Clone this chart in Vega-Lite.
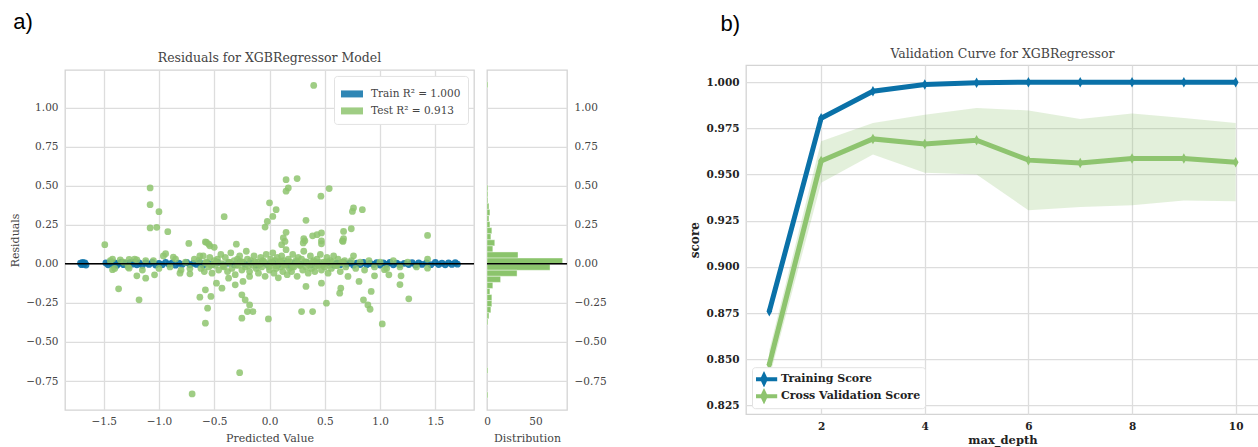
{
  "$schema": "https://vega.github.io/schema/vega-lite/v6.json",
  "background": "white",
  "padding": {"left": 9, "top": 11, "right": 0, "bottom": 0},
  "center": true,
  "config": {
    "view": {"stroke": "#d4d4d4", "strokeWidth": 1.3},
    "axis": {"domain": false, "ticks": false, "gridColor": "#dddddd", "gridWidth": 1.3, "labelFont": "DejaVu Serif", "labelFontSize": 10.5, "labelColor": "#444444", "titleFont": "DejaVu Serif", "titleFontSize": 11, "titleFontWeight": "normal", "titleColor": "#444444", "labelPadding": 7, "titlePadding": 5, "labelOverlap": false, "labelFlush": false},
    "title": {"font": "DejaVu Serif", "fontSize": 12.5, "fontWeight": "normal", "color": "#444444"}
  },
  "datasets": {
    "train": [
      {"p":-1.71,"r":0.004},{"p":-1.70,"r":-0.006},{"p":-1.69,"r":0.008},{"p":-1.68,"r":-0.003},{"p":-1.67,"r":0.006},{"p":-1.66,"r":-0.008},
      {"p":-1.48,"r":0.005},{"p":-1.46,"r":-0.007},{"p":-1.44,"r":0.009},{"p":-1.42,"r":-0.004},{"p":-1.40,"r":0.006},{"p":-1.38,"r":-0.01},{"p":-1.36,"r":0.003},{"p":-1.34,"r":0.01},{"p":-1.32,"r":-0.006},{"p":-1.30,"r":0.004},{"p":-1.28,"r":-0.009},{"p":-1.26,"r":0.007},{"p":-1.24,"r":-0.003},{"p":-1.22,"r":0.01},{"p":-1.20,"r":-0.007},{"p":-1.18,"r":0.005},{"p":-1.15,"r":-0.01},{"p":-1.12,"r":0.006},{"p":-1.09,"r":-0.004},{"p":-1.06,"r":0.008},{"p":-1.03,"r":-0.008},{"p":-1.00,"r":0.003},{"p":-0.97,"r":-0.006},{"p":-0.94,"r":0.009},{"p":-0.91,"r":-0.003},{"p":-0.88,"r":0.006},{"p":-0.85,"r":-0.009},{"p":-0.82,"r":0.004},{"p":-0.79,"r":-0.005},{"p":-0.75,"r":0.008},{"p":-0.72,"r":-0.007},{"p":-0.69,"r":0.003},{"p":-0.66,"r":-0.004},{"p":-0.63,"r":0.007},{"p":-0.60,"r":-0.009},{"p":-0.56,"r":0.005},{"p":-0.52,"r":-0.004},{"p":-0.47,"r":0.008},{"p":-0.42,"r":-0.007},{"p":-0.37,"r":0.004},{"p":-0.32,"r":-0.006},{"p":-0.27,"r":0.009},{"p":-0.22,"r":-0.003},{"p":-0.17,"r":0.006},{"p":-0.12,"r":-0.008},{"p":-0.07,"r":0.004},{"p":-0.02,"r":-0.005},{"p":0.03,"r":0.007},{"p":0.08,"r":-0.006},{"p":0.13,"r":0.003},{"p":0.18,"r":-0.009},{"p":0.23,"r":0.006},{"p":0.28,"r":-0.004},{"p":0.33,"r":0.008},{"p":0.38,"r":-0.007},{"p":0.43,"r":0.004},{"p":0.48,"r":-0.005},{"p":0.53,"r":0.007},{"p":0.58,"r":-0.008},{"p":0.61,"r":0.004},{"p":0.64,"r":-0.006},{"p":0.67,"r":0.009},{"p":0.70,"r":-0.003},{"p":0.73,"r":0.006},{"p":0.76,"r":-0.009},{"p":0.79,"r":0.004},{"p":0.82,"r":-0.005},{"p":0.85,"r":0.008},{"p":0.88,"r":-0.007},{"p":0.91,"r":0.003},{"p":0.94,"r":-0.004},{"p":0.97,"r":0.007},{"p":1.00,"r":-0.008},{"p":1.03,"r":0.005},{"p":1.06,"r":-0.004},{"p":1.09,"r":0.008},{"p":1.12,"r":-0.007},{"p":1.15,"r":0.004},{"p":1.18,"r":-0.006},{"p":1.22,"r":0.003},{"p":1.26,"r":-0.005},{"p":1.29,"r":0.007},{"p":1.32,"r":-0.008},{"p":1.35,"r":0.005},{"p":1.38,"r":-0.004},{"p":1.42,"r":0.006},{"p":1.46,"r":-0.006},{"p":1.50,"r":0.008},{"p":1.53,"r":-0.005},{"p":1.56,"r":0.004},{"p":1.59,"r":-0.007},{"p":1.62,"r":0.006},{"p":1.65,"r":-0.004},{"p":1.68,"r":0.007},{"p":1.70,"r":-0.003}
    ],
    "test": [
      {"p":-1.08,"r":0.485},{"p":-1.08,"r":0.378},{"p":-1.00,"r":0.333},{"p":-0.41,"r":0.301},{"p":-1.08,"r":0.229},{"p":-1.02,"r":0.233},{"p":-0.92,"r":0.205},{"p":0.0,"r":0.39},{"p":-0.02,"r":0.271},{"p":-0.04,"r":0.235},{"p":-0.73,"r":0.13},{"p":-0.58,"r":0.14},{"p":-0.54,"r":0.115},{"p":-0.30,"r":0.125},{"p":-0.57,"r":0.137},{"p":-0.55,"r":0.126},{"p":-0.50,"r":0.105},
      {"p":0.40,"r":1.141},{"p":0.15,"r":0.538},{"p":0.25,"r":0.545},{"p":0.17,"r":0.485},{"p":0.15,"r":0.464},{"p":0.54,"r":0.481},{"p":0.465,"r":0.432},{"p":0.06,"r":0.346},{"p":0.03,"r":0.303},{"p":0.76,"r":0.357},{"p":0.84,"r":0.346},{"p":0.75,"r":0.335},{"p":0.33,"r":0.278},{"p":0.74,"r":0.224},{"p":0.67,"r":0.207},{"p":0.43,"r":0.186},{"p":0.47,"r":0.197},{"p":0.15,"r":0.201},{"p":0.125,"r":0.165},{"p":0.31,"r":0.16},{"p":0.67,"r":0.16},{"p":1.43,"r":0.181},{"p":0.32,"r":0.147},{"p":0.39,"r":0.179},{"p":0.47,"r":0.147},{"p":0.66,"r":0.147},
      {"p":-1.49,"r":0.122},{"p":-0.94,"r":0.064},{"p":-0.87,"r":0.043},{"p":-1.42,"r":0.030},{"p":-1.35,"r":0.025},{"p":-1.27,"r":0.028},{"p":-1.20,"r":0.025},{"p":-1.12,"r":0.02},{"p":-1.42,"r":-0.038},{"p":-1.27,"r":-0.028},{"p":-1.20,"r":-0.077},{"p":-1.12,"r":-0.092},{"p":-1.04,"r":-0.071},{"p":-1.365,"r":-0.160},{"p":-1.18,"r":-0.231},{"p":-0.81,"r":-0.060},{"p":-0.72,"r":-0.064},{"p":-0.63,"r":0.051},{"p":-0.58,"r":-0.167},{"p":-0.63,"r":-0.214},{"p":-0.53,"r":-0.209},{"p":-0.56,"r":-0.284},{"p":-0.58,"r":-0.380},{"p":-0.48,"r":-0.124},{"p":-0.43,"r":-0.156},{"p":-0.37,"r":-0.092},{"p":-0.31,"r":-0.135},{"p":-0.24,"r":-0.113},{"p":-0.18,"r":-0.081},{"p":-0.25,"r":-0.199},{"p":-0.22,"r":-0.231},{"p":-0.18,"r":-0.263},{"p":-0.20,"r":-0.306},{"p":-0.15,"r":-0.306},{"p":-0.25,"r":-0.348},{"p":-0.01,"r":-0.353},{"p":-0.27,"r":-0.697},{"p":-0.70,"r":-0.833},
      {"p":0.11,"r":0.122},{"p":0.14,"r":0.143},{"p":0.305,"r":0.133},{"p":0.47,"r":0.128},{"p":0.665,"r":0.143},{"p":0.76,"r":0.051},{"p":1.43,"r":0.030},{"p":0.33,"r":-0.145},{"p":0.47,"r":-0.124},{"p":0.645,"r":-0.156},{"p":0.635,"r":-0.188},{"p":0.515,"r":-0.252},{"p":0.29,"r":-0.306},{"p":0.39,"r":-0.306},{"p":0.81,"r":-0.113},{"p":0.71,"r":-0.081},{"p":0.92,"r":-0.177},{"p":0.85,"r":-0.231},{"p":0.89,"r":-0.263},{"p":0.91,"r":-0.291},{"p":0.95,"r":-0.077},{"p":1.04,"r":-0.038},{"p":1.08,"r":-0.071},{"p":1.19,"r":-0.077},{"p":1.18,"r":-0.133},{"p":1.26,"r":-0.224},{"p":1.02,"r":-0.385},{"p":1.43,"r":-0.028},
      {"p":-0.64,"r":0.02},{"p":-0.62,"r":-0.03},{"p":-0.60,"r":0.05},{"p":-0.59,"r":-0.05},{"p":-0.57,"r":0.01},{"p":-0.55,"r":-0.02},{"p":-0.54,"r":0.04},{"p":-0.52,"r":-0.06},{"p":-0.50,"r":0.02},{"p":-0.49,"r":-0.01},{"p":-0.47,"r":0.03},{"p":-0.46,"r":-0.04},{"p":-0.44,"r":0.06},{"p":-0.43,"r":0.0},{"p":-0.41,"r":-0.02},{"p":-0.40,"r":0.04},{"p":-0.38,"r":-0.05},{"p":-0.37,"r":0.01},{"p":-0.35,"r":0.07},{"p":-0.34,"r":-0.03},{"p":-0.32,"r":0.02},{"p":-0.31,"r":-0.07},{"p":-0.29,"r":0.03},{"p":-0.28,"r":-0.01},{"p":-0.27,"r":0.05},{"p":-0.25,"r":-0.04},{"p":-0.24,"r":0.01},{"p":-0.22,"r":-0.02},{"p":-0.21,"r":0.08},{"p":-0.20,"r":0.03},{"p":-0.18,"r":-0.05},{"p":-0.17,"r":0.02},{"p":-0.15,"r":-0.01},{"p":-0.14,"r":0.05},{"p":-0.12,"r":-0.03},{"p":-0.11,"r":0.01},{"p":-0.10,"r":-0.06},{"p":-0.08,"r":0.04},{"p":-0.07,"r":-0.02},{"p":-0.06,"r":0.02},{"p":-0.04,"r":-0.08},{"p":-0.03,"r":0.06},{"p":-0.02,"r":0.0},{"p":0.0,"r":-0.04},{"p":0.01,"r":0.03},{"p":0.02,"r":-0.01},{"p":0.03,"r":0.07},{"p":0.04,"r":-0.06},{"p":0.05,"r":0.02},{"p":0.06,"r":-0.03},{"p":0.07,"r":0.04},{"p":0.08,"r":-0.09},{"p":0.09,"r":0.01},{"p":0.10,"r":-0.02},{"p":0.11,"r":0.05},{"p":0.12,"r":-0.05},{"p":0.13,"r":0.02},{"p":0.14,"r":-0.01},{"p":0.15,"r":0.09},{"p":0.16,"r":-0.07},{"p":0.17,"r":0.03},{"p":0.18,"r":-0.03},{"p":0.19,"r":0.01},{"p":0.20,"r":-0.05},{"p":0.21,"r":0.06},{"p":0.22,"r":-0.02},{"p":0.24,"r":0.02},{"p":0.25,"r":-0.08},{"p":0.26,"r":0.04},{"p":0.27,"r":-0.01},{"p":0.29,"r":0.03},{"p":0.30,"r":-0.04},{"p":0.31,"r":0.08},{"p":0.33,"r":-0.02},{"p":0.34,"r":0.01},{"p":0.35,"r":-0.06},{"p":0.37,"r":0.05},{"p":0.38,"r":-0.03},{"p":0.40,"r":0.02},{"p":0.41,"r":-0.05},{"p":0.43,"r":0.03},{"p":0.44,"r":-0.01},{"p":0.46,"r":0.06},{"p":0.47,"r":-0.04},{"p":0.49,"r":0.01},{"p":0.50,"r":-0.02},{"p":0.52,"r":0.04},{"p":0.53,"r":-0.06},{"p":0.55,"r":0.02},{"p":0.56,"r":-0.03},{"p":0.58,"r":0.05},{"p":0.60,"r":-0.01},{"p":0.62,"r":0.03},{"p":0.64,"r":-0.05},{"p":0.66,"r":0.01},{"p":0.69,"r":-0.02},
      {"p":-0.58,"r":0.005},{"p":-0.53,"r":-0.008},{"p":-0.48,"r":0.012},{"p":-0.42,"r":-0.015},{"p":-0.36,"r":0.008},{"p":-0.30,"r":-0.01},{"p":-0.26,"r":0.015},{"p":-0.19,"r":-0.012},{"p":-0.13,"r":0.01},{"p":-0.09,"r":-0.006},{"p":-0.05,"r":0.014},{"p":-0.01,"r":-0.018},{"p":0.02,"r":0.01},{"p":0.06,"r":-0.012},{"p":0.10,"r":0.016},{"p":0.13,"r":-0.008},{"p":0.17,"r":0.012},{"p":0.21,"r":-0.015},{"p":0.25,"r":0.006},{"p":0.28,"r":-0.01},{"p":0.32,"r":0.014},{"p":0.36,"r":-0.006},{"p":0.39,"r":0.01},{"p":0.42,"r":-0.014},{"p":0.45,"r":0.008},{"p":0.48,"r":-0.01},{"p":0.51,"r":0.012},{"p":0.54,"r":-0.008},{"p":0.57,"r":0.01},{"p":0.61,"r":-0.012},{"p":0.65,"r":0.006},{"p":0.68,"r":0.02},
      {"p":-1.44,"r":0.02},{"p":-1.40,"r":-0.03},{"p":-1.32,"r":0.01},{"p":-1.28,"r":-0.02},{"p":-1.22,"r":0.03},{"p":-1.15,"r":-0.04},{"p":-1.05,"r":0.02},{"p":-1.00,"r":-0.03},{"p":-0.96,"r":0.05},{"p":-0.90,"r":-0.02},{"p":-0.85,"r":0.03},{"p":-0.80,"r":-0.04},{"p":-0.76,"r":0.01},{"p":-0.72,"r":-0.03},{"p":-0.68,"r":0.03},{"p":0.74,"r":0.02},{"p":0.78,"r":-0.03},{"p":0.82,"r":0.01},{"p":0.86,"r":-0.04},{"p":0.90,"r":0.02},{"p":0.95,"r":-0.02},{"p":1.00,"r":0.01},{"p":1.06,"r":-0.03},{"p":1.12,"r":0.02},{"p":1.18,"r":-0.02},{"p":1.25,"r":0.01},{"p":1.33,"r":-0.02}
    ],
    "hist": [
      {"lo":1.1254,"hi":1.1643,"n":1},
      {"lo":0.4645,"hi":0.5034,"n":1},{"lo":0.4256,"hi":0.4645,"n":1},{"lo":0.3867,"hi":0.4256,"n":1},{"lo":0.3478,"hi":0.3867,"n":2},{"lo":0.3089,"hi":0.3478,"n":3},{"lo":0.2700,"hi":0.3089,"n":2},{"lo":0.2311,"hi":0.2700,"n":3},{"lo":0.1922,"hi":0.2311,"n":5},{"lo":0.1533,"hi":0.1922,"n":4},{"lo":0.1144,"hi":0.1533,"n":8},{"lo":0.0755,"hi":0.1144,"n":6},{"lo":0.0366,"hi":0.0755,"n":32},{"lo":-0.0023,"hi":0.0366,"n":78},{"lo":-0.0412,"hi":-0.0023,"n":65},{"lo":-0.0801,"hi":-0.0412,"n":31},{"lo":-0.1190,"hi":-0.0801,"n":14},{"lo":-0.1579,"hi":-0.1190,"n":6},{"lo":-0.1968,"hi":-0.1579,"n":3},{"lo":-0.2357,"hi":-0.1968,"n":5},{"lo":-0.2746,"hi":-0.2357,"n":5},{"lo":-0.3135,"hi":-0.2746,"n":4},{"lo":-0.3524,"hi":-0.3135,"n":2},{"lo":-0.3913,"hi":-0.3524,"n":1},
      {"lo":-0.7027,"hi":-0.6638,"n":1},{"lo":-0.8585,"hi":-0.8196,"n":1}
    ],
    "curve": [
      {"d":1,"s":"Training Score","v":0.876},{"d":2,"s":"Training Score","v":0.9805},{"d":3,"s":"Training Score","v":0.9951},{"d":4,"s":"Training Score","v":0.9987},{"d":5,"s":"Training Score","v":0.9997},{"d":6,"s":"Training Score","v":1.0},{"d":7,"s":"Training Score","v":1.0},{"d":8,"s":"Training Score","v":1.0},{"d":9,"s":"Training Score","v":1.0},{"d":10,"s":"Training Score","v":1.0},
      {"d":1,"s":"Cross Validation Score","v":0.8472},{"d":2,"s":"Cross Validation Score","v":0.9573},{"d":3,"s":"Cross Validation Score","v":0.9693},{"d":4,"s":"Cross Validation Score","v":0.9666},{"d":5,"s":"Cross Validation Score","v":0.9686},{"d":6,"s":"Cross Validation Score","v":0.9578},{"d":7,"s":"Cross Validation Score","v":0.9563},{"d":8,"s":"Cross Validation Score","v":0.9587},{"d":9,"s":"Cross Validation Score","v":0.9587},{"d":10,"s":"Cross Validation Score","v":0.9567}
    ],
    "band": [
      {"d":1,"lo":0.840,"hi":0.855},{"d":2,"lo":0.9455,"hi":0.968},{"d":3,"lo":0.9608,"hi":0.9779},{"d":4,"lo":0.951,"hi":0.9824},{"d":5,"lo":0.950,"hi":0.986},{"d":6,"lo":0.9307,"hi":0.9847},{"d":7,"lo":0.9325,"hi":0.980},{"d":8,"lo":0.9334,"hi":0.983},{"d":9,"lo":0.936,"hi":0.9806},{"d":10,"lo":0.9355,"hi":0.9779}
    ]
  },
  "resolve": {"scale": {"color": "independent"}, "legend": {"color": "independent"}},
  "spacing": 80,
  "hconcat": [
    {
      "title": {"text": "a)", "font": "Liberation Sans", "fontSize": 22, "fontWeight": "normal", "color": "#000000", "anchor": "start", "frame": "bounds", "dx": 4, "offset": 11},
      "spacing": 7,
      "resolve": {"scale": {"color": "independent"}, "legend": {"color": "independent"}},
      "hconcat": [
        {
          "width": 409,
          "height": 340,
          "title": {"text": [" ", "Residuals for XGBRegressor Model"], "lineHeight": 6.5, "offset": 5},
          "layer": [
            {
              "data": {"name": "train"},
              "mark": {"type": "circle", "size": 46, "opacity": 0.9},
              "encoding": {
                "x": {"field": "p", "type": "quantitative", "scale": {"domain": [-1.85, 1.85], "nice": false, "zero": false}, "axis": {"values": [-1.5, -1, -0.5, 0, 0.5, 1, 1.5], "format": ".1f", "title": "Predicted Value"}},
                "y": {"field": "r", "type": "quantitative", "scale": {"domain": [-0.935, 1.24], "nice": false, "zero": false}, "axis": {"values": [-0.75, -0.5, -0.25, 0, 0.25, 0.5, 0.75, 1], "format": ".2f", "title": "Residuals"}},
                "color": {"datum": "Train", "type": "nominal", "scale": {"domain": ["Train", "Test"], "range": ["#0a71a8", "#8ec46f"]},
                  "legend": {"title": null, "orient": "top-right", "offset": 6, "symbolType": "M-1.1,-0.35H1.1V0.35H-1.1Z", "symbolSize": 400, "symbolOpacity": 1, "labelExpr": "datum.label == 'Train' ? 'Train R² = 1.000' : 'Test R² = 0.913'", "labelFont": "DejaVu Serif", "labelFontSize": 10.5, "labelColor": "#444444", "fillColor": "white", "strokeColor": "#e2e2e2", "padding": 7, "cornerRadius": 3, "rowPadding": 0, "labelOffset": 8}}
              }
            },
            {
              "data": {"name": "test"},
              "mark": {"type": "circle", "size": 46, "opacity": 0.85},
              "encoding": {
                "x": {"field": "p", "type": "quantitative"},
                "y": {"field": "r", "type": "quantitative"},
                "color": {"datum": "Test", "type": "nominal"}
              }
            },
            {
              "data": {"values": [{}]},
              "mark": {"type": "rule", "color": "#000000", "strokeWidth": 1.5},
              "encoding": {"y": {"datum": 0}}
            }
          ]
        },
        {
          "width": 80,
          "height": 340,
          "layer": [
            {
              "data": {"name": "hist"},
              "mark": {"type": "rect", "color": "#8bc46c", "stroke": "white", "strokeWidth": 0.4},
              "encoding": {
                "y": {"field": "lo", "type": "quantitative", "scale": {"domain": [-0.935, 1.24], "nice": false, "zero": false}, "axis": {"orient": "right", "values": [-0.75, -0.5, -0.25, 0, 0.25, 0.5, 0.75, 1], "format": ".2f", "title": null}},
                "y2": {"field": "hi"},
                "x": {"field": "n", "type": "quantitative", "scale": {"domain": [0, 82.5], "nice": false}, "axis": {"values": [0, 50], "grid": false, "title": "Distribution"}},
                "x2": {"datum": 0}
              }
            },
            {
              "data": {"values": [{}]},
              "mark": {"type": "rule", "color": "#000000", "strokeWidth": 1.5},
              "encoding": {"y": {"datum": 0}}
            }
          ]
        }
      ]
    },
    {
      "title": {"text": "b)", "font": "Liberation Sans", "fontSize": 22, "fontWeight": "normal", "color": "#000000", "anchor": "start", "frame": "bounds", "dx": 33, "offset": 11},
      "resolve": {"scale": {"color": "independent"}, "legend": {"color": "independent"}},
      "vconcat": [
        {
          "width": 513,
          "height": 349,
          "title": {"text": "Validation Curve for XGBRegressor", "offset": 5},
          "layer": [
            {
              "data": {"name": "band"},
              "mark": {"type": "area", "color": "#8ec46f", "opacity": 0.25},
              "encoding": {
                "x": {"field": "d", "type": "quantitative", "scale": {"domain": [0.55, 10.45], "nice": false, "zero": false}, "axis": {"values": [2, 4, 6, 8, 10], "title": ["max_depth", " "], "titleLineHeight": 2, "labelFontWeight": "bold", "labelColor": "#222222", "titleFontWeight": "bold", "titleColor": "#222222", "titleFontSize": 11.5, "titlePadding": 3}},
                "y": {"field": "lo", "type": "quantitative", "scale": {"domain": [0.8203, 1.0092], "nice": false, "zero": false}, "axis": {"values": [0.825, 0.85, 0.875, 0.9, 0.925, 0.95, 0.975, 1.0], "format": ".3f", "title": "score", "labelFontWeight": "bold", "labelColor": "#222222", "titleFontWeight": "bold", "titleColor": "#222222", "titleFontSize": 12}},
                "y2": {"field": "hi"}
              }
            },
            {
              "data": {"name": "curve"},
              "mark": {"type": "line", "strokeWidth": 5},
              "encoding": {
                "x": {"field": "d", "type": "quantitative"},
                "y": {"field": "v", "type": "quantitative"},
                "color": {"field": "s", "type": "nominal", "sort": ["Training Score", "Cross Validation Score"], "scale": {"domain": ["Training Score", "Cross Validation Score"], "range": ["#0a71a8", "#8ec46f"]},
                  "legend": {"title": null, "orient": "bottom-left", "offset": 6, "symbolType": "M-2.2,0H2.2M0,-0.6L0.28,0L0,0.6L-0.28,0Z", "symbolSize": 144, "symbolStrokeWidth": 4, "clipHeight": 16, "labelFont": "DejaVu Serif", "labelFontWeight": "bold", "labelFontSize": 11, "labelColor": "#222222", "fillColor": "white", "strokeColor": "#e2e2e2", "padding": 4, "cornerRadius": 3, "rowPadding": 1, "labelOffset": 9}}
              }
            },
            {
              "data": {"name": "curve"},
              "mark": {"type": "point", "shape": "M0,-1L0.55,0L0,1L-0.55,0Z", "filled": true, "size": 110, "opacity": 1},
              "encoding": {
                "x": {"field": "d", "type": "quantitative"},
                "y": {"field": "v", "type": "quantitative"},
                "color": {"field": "s", "type": "nominal", "legend": null}
              }
            }
          ]
        }
      ]
    }
  ]
}
